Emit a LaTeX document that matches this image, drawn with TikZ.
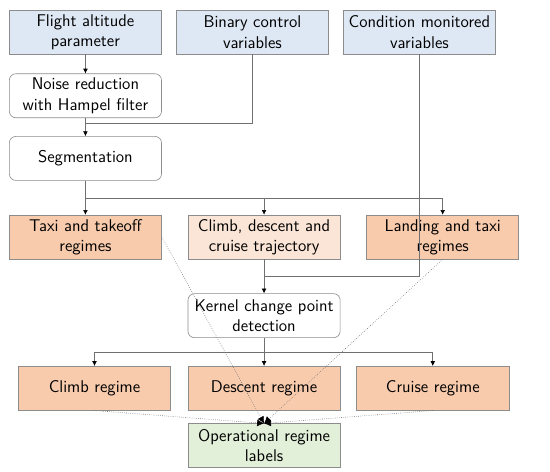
\documentclass[tikz,border=0pt]{standalone}
\usepackage{tikz}
\usetikzlibrary{positioning, arrows.meta}
\definecolor{inputBlue}{HTML}{DEE8F4}
\definecolor{regimeOrange}{HTML}{F8CBAD}
\definecolor{trajectoryPeach}{HTML}{FBE5D6}
\definecolor{labelGreen}{HTML}{E2F0D9}
\definecolor{borderGrey}{HTML}{8C8C8C}
\definecolor{lineGrey}{HTML}{707070}

\begin{document}
\begin{tikzpicture}[font=\sffamily\fontsize{11.2}{13.4}\selectfont, every node/.style={align=center},
  box/.style={draw=borderGrey, minimum width=3.53cm, minimum height=1.02cm, inner sep=1pt},
  inbox/.style={box, fill=inputBlue},
  stepbox/.style={box, fill=white, rounded corners=0.15cm},
  regime/.style={box, fill=regimeOrange},
  trajbox/.style={box, fill=trajectoryPeach},
  labelbox/.style={box, fill=labelGreen},
  flow/.style={draw=lineGrey, -{Latex[length=1.1mm, width=1.1mm, color=black]}},
  feed/.style={draw=lineGrey},
  link/.style={draw=lineGrey, densely dotted, -{Latex[length=1.6mm, width=1.6mm, color=black]}}]
  \useasboundingbox (0,0) rectangle (12.76,-10.95);
  % inputs
  \node[inbox, anchor=north west] (altitude) at (0.21,-0.23) {Flight altitude\\parameter};
  \node[inbox, right=0.33cm of altitude] (binary) {Binary control\\variables};
  \node[inbox, right=0.33cm of binary] (monitored) {Condition monitored\\variables};
  % preprocessing
  \node[stepbox, below=0.44cm of altitude] (noise) {Noise reduction\\with Hampel filter};
  \node[stepbox, below=0.42cm of noise] (segment) {Segmentation};
  % first split
  \node[regime, below=0.79cm of segment] (taxi) {Taxi and takeoff\\regimes};
  \node[trajbox, right=0.6cm of taxi] (trajectory) {Climb, descent and\\cruise trajectory};
  \node[regime, right=0.6cm of trajectory] (landing) {Landing and taxi\\regimes};
  % change points
  \node[stepbox, below=0.79cm of trajectory] (kernel) {Kernel change point\\detection};
  \node[regime, below=0.65cm of kernel] (descent) {Descent regime};
  \node[regime, left=0.39cm of descent] (climb) {Climb regime};
  \node[regime, right=0.37cm of descent] (cruise) {Cruise regime};
  % output
  \node[labelbox, below=0.3cm of descent] (labels) {Operational regime\\labels};

  % junctions
  \coordinate[below=0.12cm of noise.south] (joinBinary);
  \coordinate[below=0.4cm of segment.south] (joinSegment);
  \coordinate[below=0.4cm of trajectory.south] (joinMonitored);
  \coordinate[below=0.33cm of kernel.south] (joinKernel);

  \draw[flow] (altitude) -- (noise);
  \draw[flow] (noise) -- (segment);
  \draw[feed] (binary.south) |- (joinBinary);
  \draw[feed] (segment.south) -- (joinSegment);
  \draw[flow] (joinSegment) -- (taxi.north);
  \draw[flow] (joinSegment) -| (trajectory.north);
  \draw[flow] (joinSegment) -| (landing.north);
  \draw[feed] (monitored.south) |- (joinMonitored);
  \draw[flow] (trajectory) -- (kernel);
  \draw[feed] (kernel.south) -- (joinKernel);
  \draw[flow] (joinKernel) -| (climb.north);
  \draw[flow] (joinKernel) -- (descent.north);
  \draw[flow] (joinKernel) -| (cruise.north);

  % labels
  \draw[link] (taxi.east) -- (labels.north);
  \draw[link] (landing.south) -- (labels.north);
  \draw[link] (climb.south) -- (labels.north);
  \draw[link] (cruise.south) -- (labels.north);
\end{tikzpicture}
\end{document}
